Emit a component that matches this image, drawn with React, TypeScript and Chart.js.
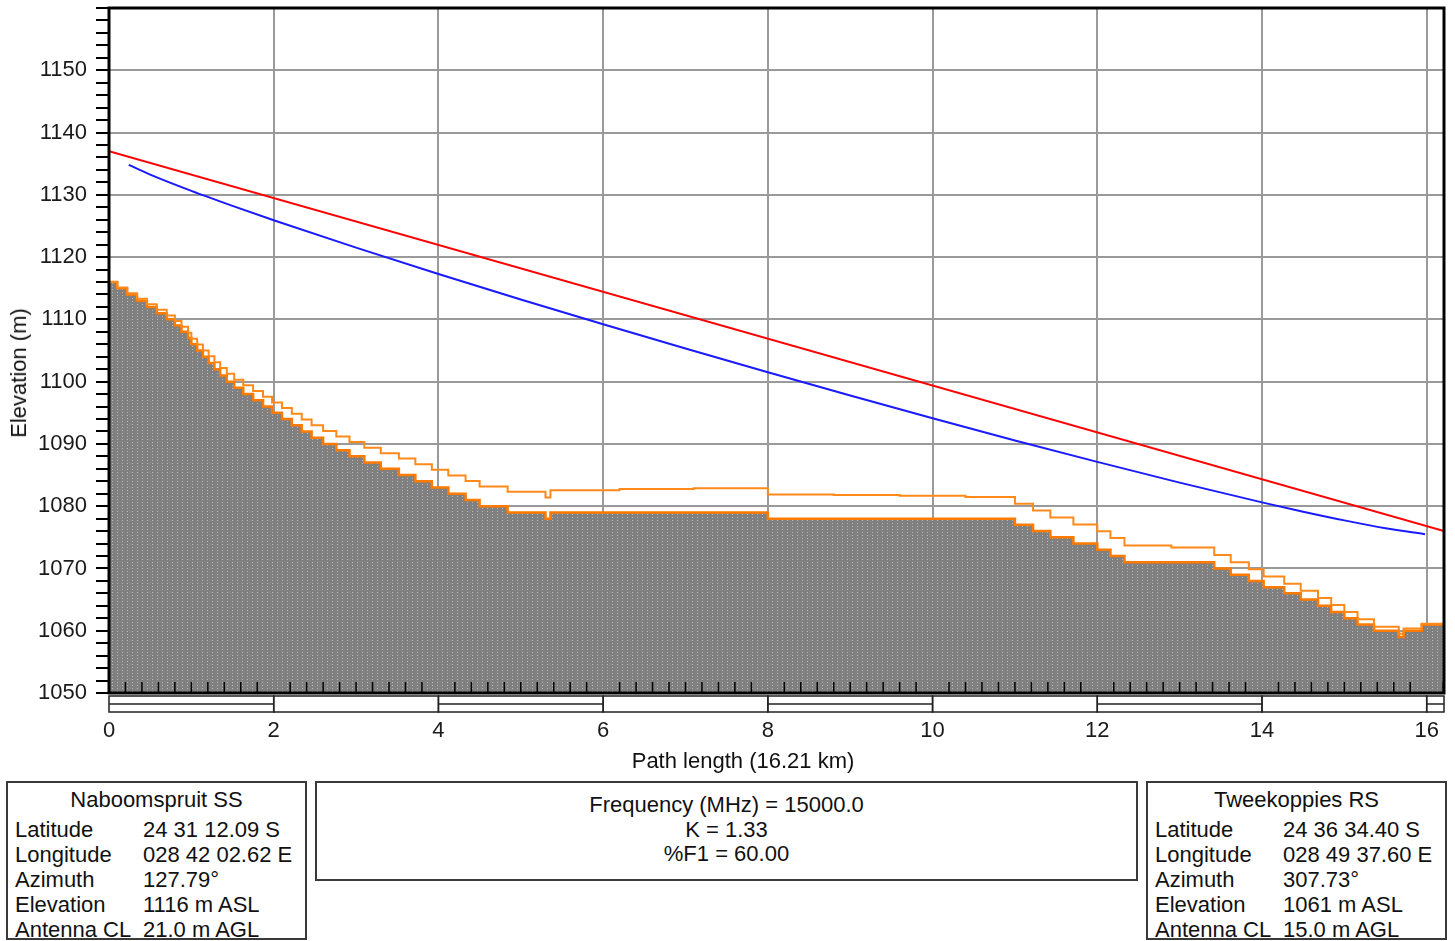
import React, { useEffect, useRef } from 'react';
import { Chart, registerables } from 'chart.js';

Chart.register(...registerables);

// ---- data ----
const terrainKm = [0, 0.1, 0.22, 0.34, 0.46, 0.58, 0.7, 0.8, 0.88, 0.96, 1.0, 1.07, 1.14, 1.21, 1.28, 1.35, 1.43, 1.52, 1.63, 1.75, 1.87, 1.98, 2.1, 2.22, 2.34, 2.46, 2.6, 2.76, 2.92, 3.1, 3.3, 3.52, 3.72, 3.92, 4.12, 4.33, 4.5, 4.84, 5.3, 5.36, 6.2, 7.1, 8.0, 8.8, 9.6, 10.4, 11.0, 11.22, 11.43, 11.71, 12.0, 12.16, 12.33, 12.9, 13.42, 13.62, 13.84, 14.02, 14.27, 14.47, 14.68, 14.84, 15.0, 15.16, 15.36, 15.66, 15.72, 15.94, 16.21];
const terrainM = [1116, 1115, 1114, 1113, 1112, 1111, 1110, 1109, 1108, 1107, 1106, 1105, 1104, 1103, 1102, 1101, 1100, 1099, 1098, 1097, 1096, 1095, 1094, 1093, 1092, 1091, 1090, 1089, 1088, 1087, 1086, 1085, 1084, 1083, 1082, 1081, 1080, 1079, 1078, 1079, 1079, 1079, 1078, 1078, 1078, 1078, 1077, 1076, 1075, 1074, 1073, 1072, 1071, 1071, 1070, 1069, 1068, 1067, 1066, 1065, 1064, 1063, 1062, 1061, 1060, 1059, 1060, 1061, 1061];
const bulgedM = [1116.0, 1115.1, 1114.21, 1113.32, 1112.43, 1111.54, 1110.64, 1109.73, 1108.8, 1107.86, 1106.9, 1105.96, 1105.01, 1104.07, 1103.13, 1102.18, 1101.25, 1100.32, 1099.4, 1098.49, 1097.58, 1096.66, 1095.75, 1094.83, 1093.92, 1093.0, 1092.09, 1091.19, 1090.29, 1089.4, 1088.51, 1087.64, 1086.74, 1085.84, 1084.94, 1084.04, 1083.18, 1082.33, 1081.41, 1082.56, 1082.75, 1082.86, 1081.87, 1081.81, 1081.67, 1081.48, 1080.38, 1079.3, 1078.17, 1077.05, 1075.98, 1074.91, 1073.68, 1073.37, 1072.15, 1071.01, 1069.87, 1068.72, 1067.56, 1066.41, 1065.26, 1064.14, 1063.01, 1061.86, 1060.64, 1059.51, 1060.36, 1061.13, 1061.0];
const losKm = [0, 16.21];
const losM = [1137, 1076];
const fresnelKm = [0.24, 0.5, 1, 1.5, 2, 3, 4, 5, 6, 7, 8, 9, 10, 11, 12, 13, 14, 14.5, 15, 15.5, 15.98];
const fresnelM = [1134.8, 1133.25, 1130.64, 1128.23, 1125.92, 1121.52, 1117.29, 1113.2, 1109.21, 1105.31, 1101.5, 1097.76, 1094.12, 1090.56, 1087.11, 1083.78, 1080.61, 1079.12, 1077.72, 1076.46, 1075.5];
const xLabels = [0, 2, 4, 6, 8, 10, 12, 14, 16];
const yLabels = [1050, 1060, 1070, 1080, 1090, 1100, 1110, 1120, 1130, 1140, 1150];
const pathLength = 16.21;

const siteA = { name: 'Naboomspruit SS', rows: [['Latitude', '24 31 12.09 S'], ['Longitude', '028 42 02.62 E'], ['Azimuth', '127.79°'], ['Elevation', '1116 m ASL'], ['Antenna CL', '21.0 m AGL']] };
const siteB = { name: 'Tweekoppies RS', rows: [['Latitude', '24 36 34.40 S'], ['Longitude', '028 49 37.60 E'], ['Azimuth', '307.73°'], ['Elevation', '1061 m ASL'], ['Antenna CL', '15.0 m AGL']] };
const linkInfo = ['Frequency (MHz) = 15000.0', 'K = 1.33', '%F1 = 60.00'];

const FONT = '"Liberation Sans", Arial, sans-serif';
const GRID = '#9a9a9a';
const CLEAR = 'rgba(0,0,0,0)';

const pts = (xs: number[], ys: number[]) => xs.map((x, i) => ({ x, y: ys[i] }));

const framePlugin = {
  id: 'frameDecor',
  afterDatasetsDraw(chart: any) {
    const { ctx, chartArea: a } = chart;
    const x = chart.scales.x;
    ctx.save();
    // inner minor ticks on x axis every 0.2 km
    ctx.strokeStyle = '#000';
    ctx.lineWidth = 1.5;
    for (let i = 1; i * 0.2 < pathLength; i++) {
      if (i % 10 === 0) continue;
      const px = x.getPixelForValue(i * 0.2);
      ctx.beginPath();
      ctx.moveTo(px, a.bottom);
      ctx.lineTo(px, a.bottom - 11);
      ctx.stroke();
    }
    // thick frame
    ctx.lineWidth = 3;
    ctx.strokeRect(a.left, a.top, a.right - a.left, a.bottom - a.top);
    // scale bar below axis
    const y0 = a.bottom + 3;
    const y1 = a.bottom + 19;
    const ym = (y0 + y1) / 2;
    ctx.lineWidth = 1.5;
    ctx.strokeStyle = '#222';
    for (let k = 0; k * 2 < pathLength; k++) {
      const xs = x.getPixelForValue(k * 2);
      const xe = x.getPixelForValue(Math.min(k * 2 + 2, pathLength));
      ctx.strokeRect(xs, y0, xe - xs, y1 - y0);
      if (k % 2 === 0) {
        ctx.beginPath();
        ctx.moveTo(xs, ym);
        ctx.lineTo(xe, ym);
        ctx.stroke();
      }
    }
    ctx.restore();
  },
};

function makePattern(): CanvasPattern | string {
  const c = document.createElement('canvas');
  c.width = 5;
  c.height = 3;
  const g = c.getContext('2d');
  if (!g) return '#878787';
  g.fillStyle = '#808080';
  g.fillRect(0, 0, 5, 3);
  g.fillStyle = '#b8b8b8';
  g.fillRect(2, 1, 1, 1);
  const p = g.createPattern(c, 'repeat');
  return p || '#878787';
}

function ChartCanvas() {
  const ref = useRef<HTMLCanvasElement | null>(null);
  useEffect(() => {
    if (!ref.current) return;
    Chart.defaults.font.family = FONT;
    const chart = new Chart(ref.current, {
      type: 'line',
      data: {
        datasets: [
          {
            label: 'Terrain',
            data: pts(terrainKm, terrainM),
            stepped: true,
            borderColor: '#ff7a00',
            borderWidth: 2.5,
            backgroundColor: makePattern() as any,
            fill: 'start',
            pointRadius: 0,
            order: 4,
          },
          {
            label: 'Earth bulge',
            data: pts(terrainKm, bulgedM),
            stepped: true,
            borderColor: '#ff8a1a',
            borderWidth: 2,
            fill: false,
            pointRadius: 0,
            order: 3,
          },
          {
            label: 'Line of sight',
            data: pts(losKm, losM),
            borderColor: '#ff0000',
            borderWidth: 2,
            fill: false,
            pointRadius: 0,
            order: 2,
          },
          {
            label: '60% F1',
            data: pts(fresnelKm, fresnelM),
            borderColor: '#1a1aff',
            borderWidth: 2,
            fill: false,
            pointRadius: 0,
            cubicInterpolationMode: 'monotone',
            order: 1,
          },
        ],
      },
      options: {
        animation: false,
        responsive: false,
        devicePixelRatio: 1,
        layout: { padding: { top: 8, right: 11, left: 0, bottom: 0 } },
        plugins: { legend: { display: false }, tooltip: { enabled: false } },
        scales: {
          x: {
            type: 'linear',
            min: 0,
            max: pathLength,
            afterFit: (s: any) => { s.height = 82; s.paddingLeft = 0; s.paddingRight = 0; },
            ticks: {
              stepSize: 2,
              includeBounds: false,
              autoSkip: false,
              maxRotation: 0,
              padding: 25,
              color: '#1a1a1a',
              font: { size: 22, family: FONT },
              callback: (v: any) => (xLabels.includes(Number(v)) ? String(v) : ''),
            },
            grid: {
              color: (c: any) => (c.tick && xLabels.includes(c.tick.value) ? GRID : CLEAR),
              lineWidth: 2,
              drawTicks: false,
            },
            border: { display: false },
          },
          y: {
            type: 'linear',
            min: 1050,
            max: 1160,
            afterFit: (s: any) => { s.width = 109; s.paddingTop = 0; s.paddingBottom = 0; },
            ticks: {
              stepSize: 2,
              autoSkip: false,
              padding: 9,
              color: '#1a1a1a',
              font: { size: 22, family: FONT },
              callback: (v: any) => (yLabels.includes(Number(v)) ? String(v) : ''),
            },
            grid: {
              color: (c: any) => (c.tick && yLabels.includes(c.tick.value) ? GRID : CLEAR),
              lineWidth: 2,
              drawTicks: true,
              tickLength: 13,
              tickWidth: 2,
              tickColor: '#000',
            },
            border: { display: false },
          },
        },
      },
      plugins: [framePlugin],
    } as any);
    return () => chart.destroy();
  }, []);
  return <canvas ref={ref} width={1455} height={775} style={{ position: 'absolute', left: 0, top: 0, display: 'block' }} />;
}

const textBase: React.CSSProperties = {
  position: 'absolute',
  fontFamily: FONT,
  fontSize: 22,
  lineHeight: '25px',
  color: '#111',
  whiteSpace: 'nowrap',
};

function SiteBox({ left, site }: { left: number; site: typeof siteA }) {
  return (
    <div style={{ position: 'absolute', left, top: 781, width: 301, height: 159, border: '2px solid #3a3a3a', boxSizing: 'border-box' }}>
      <div style={{ ...textBase, left: 0, width: '100%', textAlign: 'center', top: 4 }}>{site.name}</div>
      {site.rows.map((r, i) => (
        <React.Fragment key={r[0]}>
          <div style={{ ...textBase, left: 7, top: 34 + i * 25 }}>{r[0]}</div>
          <div style={{ ...textBase, left: 135, top: 34 + i * 25 }}>{r[1]}</div>
        </React.Fragment>
      ))}
    </div>
  );
}

export default function App() {
  return (
    <div style={{ position: 'absolute', left: 0, top: 0, width: 1455, height: 941, background: '#fff', overflow: 'hidden' }}>
      <ChartCanvas />
      <div style={{ ...textBase, left: 19, top: 373, lineHeight: 1, transform: 'translate(-50%, -50%) rotate(-90deg)' }}>Elevation (m)</div>
      <div style={{ ...textBase, left: 743, top: 761, lineHeight: 1, transform: 'translate(-50%, -50%)' }}>Path length (16.21 km)</div>
      <SiteBox left={6} site={siteA} />
      <div style={{ position: 'absolute', left: 315, top: 781, width: 823, height: 100, border: '2px solid #3a3a3a', boxSizing: 'border-box' }}>
        {linkInfo.map((t, i) => (
          <div key={t} style={{ ...textBase, left: 0, width: '100%', textAlign: 'center', top: 9 + i * 24.5 }}>{t}</div>
        ))}
      </div>
      <SiteBox left={1146} site={siteB} />
    </div>
  );
}
